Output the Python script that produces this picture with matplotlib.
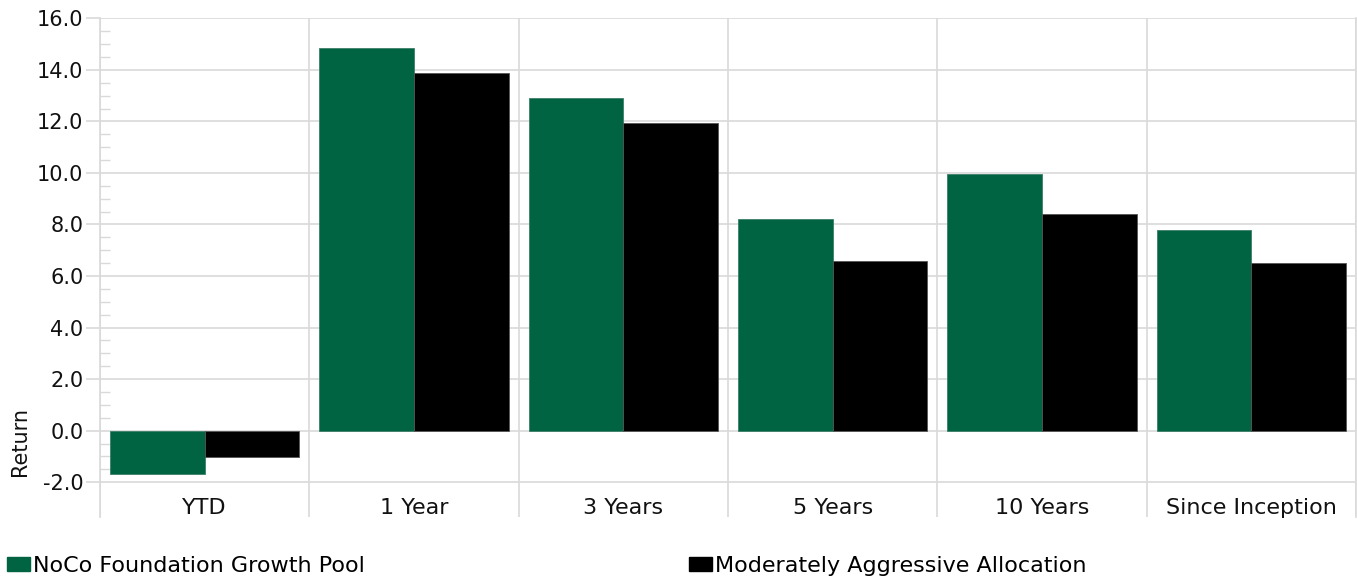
import numpy as np
import matplotlib
matplotlib.use('Agg')
import matplotlib.pyplot as plt
from matplotlib.patches import Patch

# ---- data ----
categories = ['YTD', '1 Year', '3 Years', '5 Years', '10 Years', 'Since Inception']
growth_pool = [-1.68, 14.85, 12.91, 8.21, 9.96, 7.79]
mod_aggressive = [-1.03, 13.88, 11.94, 6.58, 8.40, 6.50]
series_names = ['NoCo Foundation Growth Pool', 'Moderately Aggressive Allocation']
y_major = [-2.0, 0.0, 2.0, 4.0, 6.0, 8.0, 10.0, 12.0, 14.0, 16.0]

GREEN = '#006341'
BLACK = '#000000'
GRID = '#d9d9d9'
FS_Y = 15
FS = 16

plt.rcParams['font.family'] = ['DejaVu Sans']

fig = plt.figure(figsize=(13.57, 5.8), dpi=100)
ax = fig.add_axes([100 / 1357, 1 - 517 / 580, 1256 / 1357, (517 - 18.3) / 580])

x = np.arange(len(categories))
w = 0.452
ax.bar(x - w / 2, growth_pool, width=w, color=GREEN, edgecolor='#3d7f66',
       linewidth=0.6, zorder=3)
ax.bar(x + w / 2, mod_aggressive, width=w, color=BLACK, edgecolor='#555555',
       linewidth=0.6, zorder=3)

ax.set_xlim(-0.5, len(categories) - 0.5)
ax.set_ylim(-3.35, 16.0)

ax.set_yticks(y_major)
ax.set_yticklabels([f'{v:.1f}' for v in y_major], fontsize=FS_Y, color='#111111')
minor = [v + d for v in y_major[:-1] for d in (0.5, 1.0, 1.5)]
ax.set_yticks(minor, minor=True)
ax.tick_params(axis='y', which='major', length=10, width=1.2, color=GRID, pad=2)
ax.tick_params(axis='y', which='minor', direction='in', length=7, width=1.0, color=GRID)
ax.yaxis.grid(True, which='major', color=GRID, linewidth=1.2, zorder=0)

ax.set_xticks(x)
ax.set_xticklabels(categories, fontsize=FS, color='#111111')
ax.set_xticks(np.arange(len(categories) + 1) - 0.5, minor=True)
ax.tick_params(axis='x', which='major', length=0, pad=-13.5)
ax.tick_params(axis='x', which='minor', length=0)
ax.xaxis.grid(True, which='minor', color=GRID, linewidth=1.2, zorder=0)

for side in ['top', 'bottom']:
    ax.spines[side].set_visible(False)
for side in ['left', 'right']:
    ax.spines[side].set_color(GRID)
    ax.spines[side].set_linewidth(1.2)

fig.text(20 / 1357, 1 - 441 / 580, 'Return', rotation=90, fontsize=FS_Y,
         color='#111111', ha='center', va='center')

colors = [GREEN, BLACK]
starts = [7, 689]
for name, col, sx in zip(series_names, colors, starts):
    leg = fig.legend(handles=[Patch(facecolor=col, edgecolor=col)], labels=[name],
                     loc='center left', bbox_to_anchor=(sx / 1357, 1 - 566 / 580),
                     frameon=False, fontsize=FS, handlelength=1.05, handleheight=0.55,
                     handletextpad=0.13, borderpad=0, borderaxespad=0)

fig.savefig('out.png', dpi=100)
plt.close()
